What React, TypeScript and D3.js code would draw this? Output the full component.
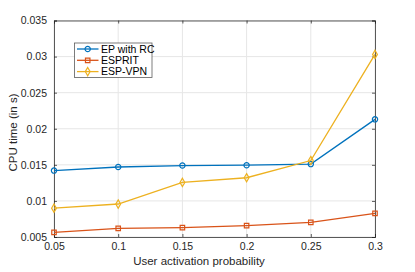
import React, { useEffect, useRef } from "react";
import * as d3 from "d3";

const probs = [0.05, 0.1, 0.15, 0.2, 0.25, 0.3];
const epWithRC = [0.0142, 0.0147, 0.0149, 0.01495, 0.0151, 0.0213];
const esprit = [0.00564, 0.0062, 0.0063, 0.00657, 0.00702, 0.00827];
const espVpn = [0.009, 0.00957, 0.01256, 0.01321, 0.0156, 0.0303];
const xTicks = [0.05, 0.1, 0.15, 0.2, 0.25, 0.3];
const yTicks = [0.005, 0.01, 0.015, 0.02, 0.025, 0.03, 0.035];
const seriesNames = ["EP with RC", "ESPRIT", "ESP-VPN"];

const App = () => {
  const svgRef = useRef<SVGSVGElement>(null);

  useEffect(() => {
    const width = 415;
    const height = 272;
    const margin = { top: 20.5, right: 40, bottom: 35, left: 54 };
    const font = "Liberation Sans, Arial, sans-serif";

    const svg = d3.select(svgRef.current);
    svg.selectAll("*").remove();
    svg.attr("width", width).attr("height", height);

    const x = d3
      .scaleLinear()
      .domain([0.05, 0.3])
      .range([margin.left, width - margin.right]);
    const y = d3
      .scaleLinear()
      .domain([0.005, 0.035])
      .range([height - margin.bottom, margin.top]);

    const [x0, x1] = x.range();
    const [y0, y1] = y.range();

    // grid
    const grid = svg.append("g").attr("stroke", "#e6e6e6").attr("stroke-width", 1);
    xTicks.forEach((t) => {
      grid.append("line").attr("x1", x(t)).attr("x2", x(t)).attr("y1", y0).attr("y2", y1);
    });
    yTicks.forEach((t) => {
      grid.append("line").attr("x1", x0).attr("x2", x1).attr("y1", y(t)).attr("y2", y(t));
    });

    // axes box, ticks pointing inward
    const axisColor = "#262626";
    const fmt = (d: any) => d3.format("")(+d.toPrecision(3));

    const bottom = svg
      .append("g")
      .attr("transform", `translate(0,${y0})`)
      .call(d3.axisBottom(x).tickValues(xTicks).tickSize(-3).tickPadding(6).tickFormat(fmt));
    const left = svg
      .append("g")
      .attr("transform", `translate(${x0},0)`)
      .call(d3.axisLeft(y).tickValues(yTicks).tickSize(-3).tickPadding(7).tickFormat(fmt));
    const top = svg
      .append("g")
      .attr("transform", `translate(0,${y1})`)
      .call(d3.axisTop(x).tickValues(xTicks).tickSize(-3).tickFormat(() => ""));
    const right = svg
      .append("g")
      .attr("transform", `translate(${x1},0)`)
      .call(d3.axisRight(y).tickValues(yTicks).tickSize(-3).tickFormat(() => ""));

    [bottom, left, top, right].forEach((g) => {
      g.selectAll("path").attr("stroke", axisColor).attr("stroke-opacity", 0.75);
      g.selectAll("line").attr("stroke", axisColor).attr("stroke-opacity", 0.75);
      g.selectAll("text")
        .attr("fill", "#262626")
        .style("font-family", font)
        .style("font-size", "10.5px");
    });

    // labels
    svg
      .append("text")
      .attr("x", 199)
      .attr("y", 264.5)
      .attr("text-anchor", "middle")
      .attr("fill", "#262626")
      .style("font-family", font)
      .style("font-size", "11.5px")
      .text("User activation probability");
    svg
      .append("text")
      .attr("transform", `translate(16.5,132.5) rotate(-90)`)
      .attr("text-anchor", "middle")
      .attr("fill", "#262626")
      .style("font-family", font)
      .style("font-size", "11.5px")
      .text("CPU time (in s)");

    const series = [
      { name: seriesNames[0], values: epWithRC, color: "#0072BD", marker: d3.symbolCircle, size: 22 },
      { name: seriesNames[1], values: esprit, color: "#D95319", marker: d3.symbolSquare, size: 20 },
      { name: seriesNames[2], values: espVpn, color: "#EDB120", marker: d3.symbolDiamond, size: 20 },
    ];

    const line = d3
      .line<number>()
      .x((_, i) => x(probs[i]))
      .y((d) => y(d));

    const drawMarker = (g: any, sym: any, size: number, cx: number, cy: number, color: string) => {
      g.append("path")
        .attr("d", d3.symbol(sym, size)())
        .attr("transform", `translate(${cx},${cy})`)
        .attr("fill", "none")
        .attr("stroke", color)
        .attr("stroke-width", 1.2);
    };

    series.forEach((s) => {
      const g = svg.append("g");
      g.append("path")
        .datum(s.values)
        .attr("d", line)
        .attr("fill", "none")
        .attr("stroke", s.color)
        .attr("stroke-width", 1.3);
      s.values.forEach((v, i) => drawMarker(g, s.marker, s.size, x(probs[i]), y(v), s.color));
    });

    // legend
    const lg = svg.append("g").attr("transform", "translate(74.5,43)");
    lg.append("rect")
      .attr("width", 77.5)
      .attr("height", 34.5)
      .attr("fill", "white")
      .attr("stroke", "#262626")
      .attr("stroke-opacity", 0.75)
      .attr("stroke-width", 0.8);
    series.forEach((s, i) => {
      const cy = 6 + i * 11.3;
      lg.append("line")
        .attr("x1", 2.5)
        .attr("x2", 24)
        .attr("y1", cy)
        .attr("y2", cy)
        .attr("stroke", s.color)
        .attr("stroke-width", 1.3);
      drawMarker(lg, s.marker, s.size, 13.2, cy, s.color);
      lg.append("text")
        .attr("x", 26.5)
        .attr("y", cy + 3.7)
        .attr("fill", "#000")
        .style("font-family", font)
        .style("font-size", "10.5px")
        .text(s.name);
    });
  }, []);

  return (
    <div style={{ position: "absolute", left: 0, top: 0 }}>
      <svg ref={svgRef}></svg>
    </div>
  );
};

export default App;
